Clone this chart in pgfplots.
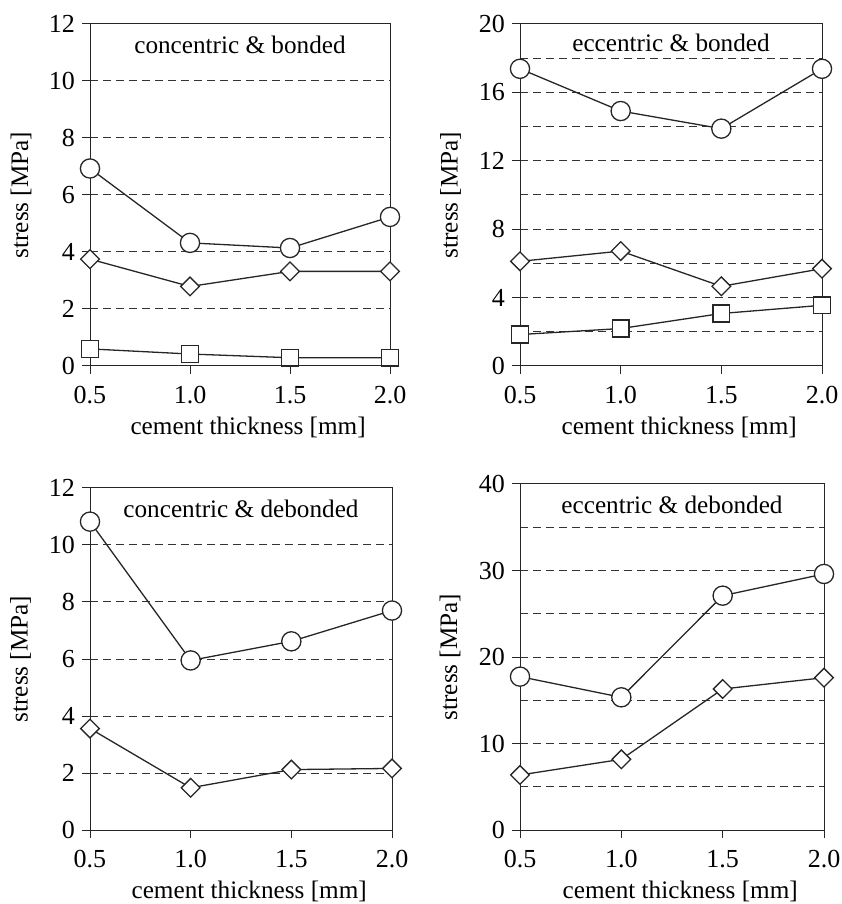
\documentclass[border=0pt]{standalone}
\usepackage{fontspec}
\setmainfont{Liberation Serif}
\usepackage{pgfplots}
\pgfplotsset{compat=1.18}

\pgfplotsset{
  stressplot/.style={
    scale only axis, width=150pt, height=171pt,
    anchor=south west,
    xmin=0.5, xmax=2.0, ymin=0,
    xtick={0.5,1,1.5,2}, xticklabels={0.5,1.0,1.5,2.0},
    xtick pos=bottom, ytick pos=left, tick align=outside,
    major tick length=4pt, minor tick length=0pt,
    ymajorgrids, yminorgrids,
    major grid style={dash pattern=on 4pt off 2.5pt, black!80, line width=0.5pt},
    minor grid style={dash pattern=on 4pt off 2.5pt, black!80, line width=0.5pt},
    axis line style={line width=0.5pt, black!85},
    tick style={line width=0.5pt, black!85},
    font=\fontsize{12.6}{15}\selectfont,
    tick label style={font=\fontsize{13}{15}\selectfont},
    xticklabel style={yshift=-2.5pt},
    /pgf/number format/assume math mode=true,
    xlabel={cement thickness [mm]}, ylabel={stress [MPa]},
    xlabel style={at={(axis description cs:0.527,-0.179)}, anchor=center},
    ylabel style={at={(axis description cs:-0.23,0.5)}, anchor=center},
    clip=false,
    every axis plot/.append style={line width=0.65pt, black!85},
  },
  circ/.style={mark=*, mark size=4.8pt, mark options={fill=white, solid}},
  diam/.style={mark=square*, mark size=3.3pt, mark options={fill=white, solid, rotate=45}},
  sqr/.style={mark=square*, mark size=4.2pt, mark options={fill=white, solid}},
}

\begin{document}
\begin{tikzpicture}
\path[use as bounding box] (0,0) rectangle (420.5pt,452pt);

% concentric & bonded
\begin{axis}[stressplot, at={(45pt,269pt)}, ymax=12, ytick={0,2,...,12}]
\addplot[circ] coordinates {(0.5,6.93)(1.0,4.32)(1.5,4.14)(2.0,5.23)};
\addplot[diam] coordinates {(0.5,3.75)(1.0,2.79)(1.5,3.32)(2.0,3.32)};
\addplot[sqr] coordinates {(0.5,0.60)(1.0,0.42)(1.5,0.29)(2.0,0.29)};
\node at (rel axis cs:0.5,0.94) {concentric \& bonded};
\end{axis}

% eccentric & bonded
\begin{axis}[stressplot, at={(260pt,269pt)}, width=151pt, ymax=20, ytick={0,4,...,20},
  minor ytick={2,6,10,14,18}]
\addplot[circ] coordinates {(0.5,17.38)(1.0,14.91)(1.5,13.88)(2.0,17.38)};
\addplot[diam] coordinates {(0.5,6.12)(1.0,6.72)(1.5,4.66)(2.0,5.69)};
\addplot[sqr] coordinates {(0.5,1.84)(1.0,2.19)(1.5,3.07)(2.0,3.55)};
\node at (rel axis cs:0.5,0.945) {eccentric \& bonded};
\end{axis}

% concentric & debonded
\begin{axis}[stressplot, at={(45pt,37pt)}, width=151pt, ymax=12, ytick={0,2,...,12}]
\addplot[circ] coordinates {(0.5,10.82)(1.0,5.95)(1.5,6.62)(2.0,7.70)};
\addplot[diam] coordinates {(0.5,3.56)(1.0,1.48)(1.5,2.12)(2.0,2.16)};
\node at (rel axis cs:0.5,0.94) {concentric \& debonded};
\end{axis}

% eccentric & debonded
\begin{axis}[stressplot, at={(260pt,37pt)}, width=152pt, height=173pt, ymax=40, ytick={0,10,...,40},
  minor ytick={5,15,25,35}]
\addplot[circ] coordinates {(0.5,17.73)(1.0,15.34)(1.5,27.09)(2.0,29.60)};
\addplot[diam] coordinates {(0.5,6.36)(1.0,8.17)(1.5,16.30)(2.0,17.61)};
\node at (rel axis cs:0.5,0.94) {eccentric \& debonded};
\end{axis}
\end{tikzpicture}
\end{document}
